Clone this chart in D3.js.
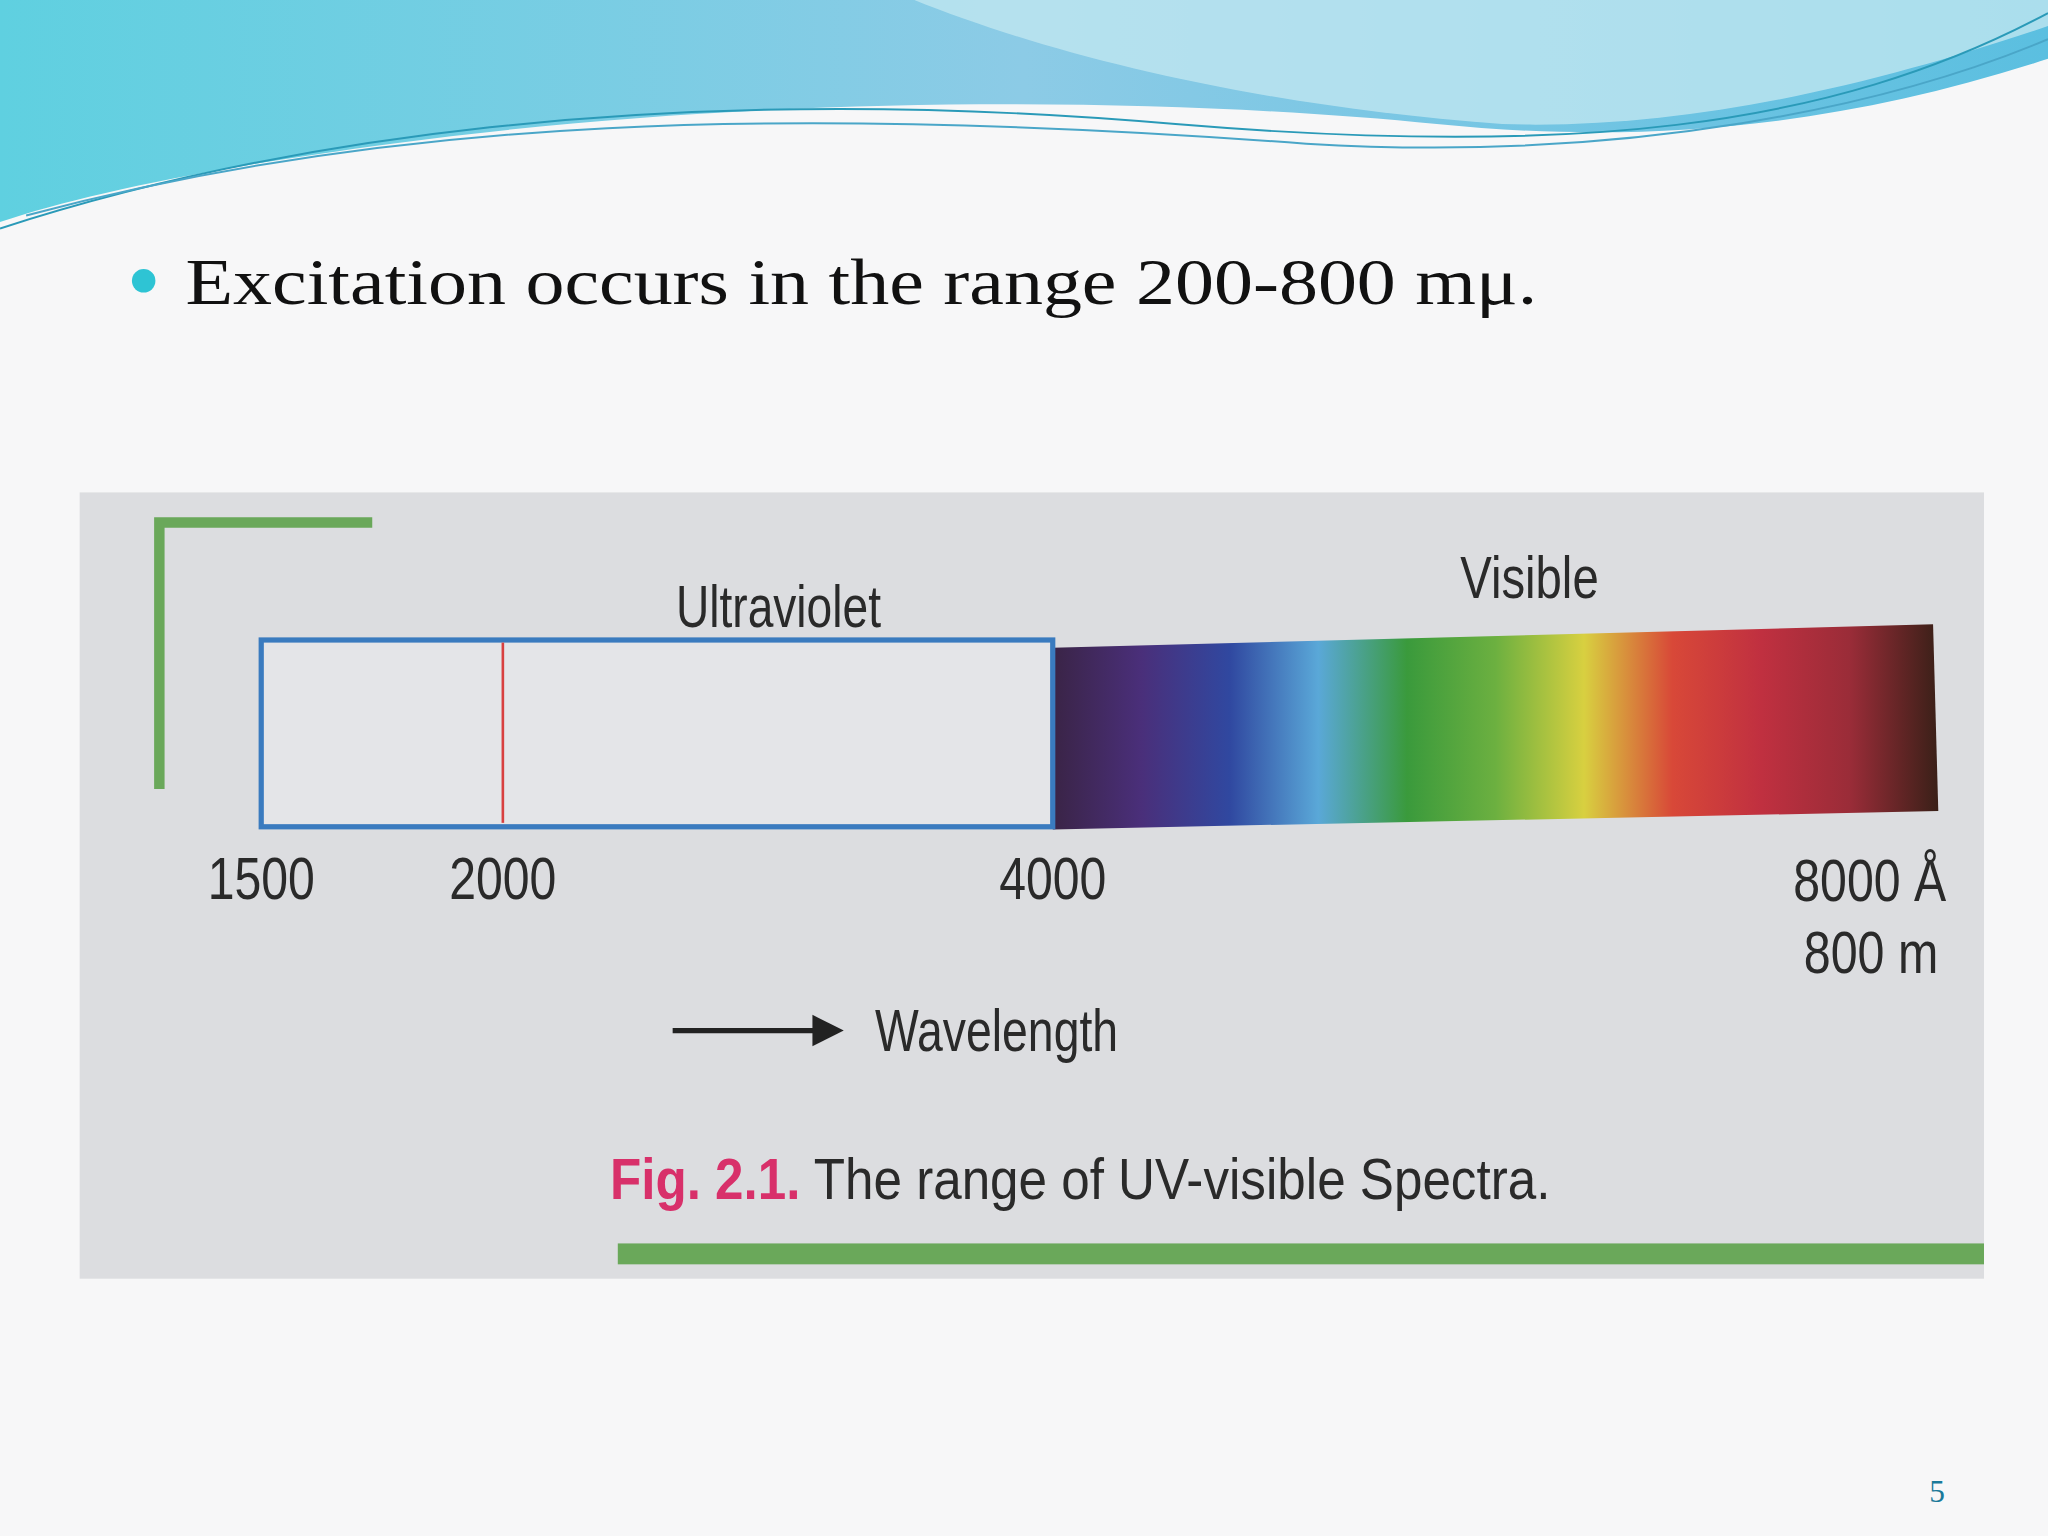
<!DOCTYPE html>
<html><head><meta charset="utf-8">
<script src="https://cdn.jsdelivr.net/npm/d3@7"></script>
<style>body{margin:0;background:#fafafa}svg{display:block}</style>
</head><body><div id="slide"></div>
<script>
// wavelength ticks (Å) and labels
const ticks = [1500, 2000, 4000, 8000];
const tickLabels = ["1500", "2000", "4000", "8000 Å"];
const regions = ["Ultraviolet", "Visible"];
const regionRanges = [[1500, 4000], [4000, 8000]];
const markerLine = 2000;
const spectrumColors = ["#3a2446", "#4a2f7a", "#3048a0", "#5aa8d8", "#3a9a3c", "#6cb040", "#d8d040", "#d84838", "#c03040", "#9a2c38", "#3a2018"];

const W = 2048, H = 1536, k = W / 1568;
const svg = d3.select("#slide").append("svg").attr("width", W).attr("height", H);
const defs = svg.append("defs");

// header waves
const hg = defs.append("linearGradient").attr("id", "hdr").attr("x1", 0).attr("x2", 1);
hg.append("stop").attr("offset", 0).attr("stop-color", "#5fd0e0");
hg.append("stop").attr("offset", 0.5).attr("stop-color", "#8ccbe6");
hg.append("stop").attr("offset", 1).attr("stop-color", "#5bbfe0");
const g = svg.append("g").attr("transform", `scale(${k})`);
g.append("rect").attr("width", 1568).attr("height", 1176).attr("fill", "#f7f7f8");
g.append("path").attr("d", "M0,0 H1568 V45 C1400,100 1250,110 1100,95 C900,75 600,70 300,110 C150,130 60,150 0,170 Z").attr("fill", "url(#hdr)");
g.append("path").attr("d", "M700,0 C800,40 950,80 1150,95 C1300,100 1450,60 1568,20 V0 Z").attr("fill", "#bfe6f0").attr("opacity", 0.8);
[["M0,175 C200,110 500,60 900,95 C1200,120 1400,100 1568,10", "#2a9ab8"],
 ["M20,165 C300,90 600,80 1000,110 C1250,125 1450,80 1568,30", "#4aa6c8"]].forEach(([d, c]) =>
  g.append("path").attr("d", d).attr("fill", "none").attr("stroke", c).attr("stroke-width", 1.5));

// bullet text
g.append("circle").attr("cx", 110).attr("cy", 215).attr("r", 9).attr("fill", "#2ec4d4");
g.append("text").attr("x", 142).attr("y", 233).attr("font-family", "'Liberation Serif', serif")
  .attr("font-size", 50).attr("fill", "#111").attr("textLength", 1035).attr("lengthAdjust", "spacingAndGlyphs")
  .text("Excitation occurs in the range 200-800 mμ.");

// photo panel
g.append("rect").attr("x", 61).attr("y", 377).attr("width", 1458).attr("height", 602).attr("fill", "#dcdde0");
g.append("path").attr("d", "M122,604 V400 H285").attr("fill", "none").attr("stroke", "#6aa85a").attr("stroke-width", 8);
g.append("rect").attr("x", 473).attr("y", 952).attr("width", 1046).attr("height", 16).attr("fill", "#6aa85a");

const x = d3.scaleLinear().domain(ticks).range([200, 385, 806, 1480]);
const barTop = 490, barBot = 633;

// spectrum gradient
const sg = defs.append("linearGradient").attr("id", "spec").attr("x1", 0).attr("x2", 1);
spectrumColors.forEach((c, i) => sg.append("stop").attr("offset", i / (spectrumColors.length - 1)).attr("stop-color", c));
g.append("path")
  .attr("d", `M${x(regionRanges[1][0])},${barTop + 6} L${x(regionRanges[1][1])},${barTop - 12} L${x(regionRanges[1][1]) + 4},${barBot - 12} L${x(regionRanges[1][0])},${barBot + 2} Z`)
  .attr("fill", "url(#spec)");

// UV box
g.append("rect").attr("x", x(regionRanges[0][0])).attr("y", barTop).attr("width", x(regionRanges[0][1]) - x(regionRanges[0][0]))
  .attr("height", barBot - barTop).attr("fill", "#e4e5e8").attr("stroke", "#3a7bbf").attr("stroke-width", 4);
g.append("line").attr("x1", x(markerLine)).attr("x2", x(markerLine)).attr("y1", barTop + 2).attr("y2", barBot - 3)
  .attr("stroke", "#d84040").attr("stroke-width", 2);

// condensed label helper (no narrow font installed)
const font = "'Liberation Sans', sans-serif";
function label(tx, ty, str, len, anchor, size) {
  const x0 = anchor === "end" ? tx - len : anchor === "middle" ? tx - len / 2 : tx;
  return g.append("text").attr("x", x0).attr("y", ty).attr("font-family", font).attr("font-size", size || 46)
    .attr("fill", "#2a2a2a").attr("textLength", len).attr("lengthAdjust", "spacingAndGlyphs").text(str);
}
ticks.forEach((t, i) => {
  if (i === 3) label(1490, 690, tickLabels[i], 117, "end");
  else label(x(t), 688, tickLabels[i], 82, "middle");
});
label(1484, 745, "800 m", 103, "end");
label(596, 480, regions[0], 157, "middle");
label(1171, 458, regions[1], 106, "middle");

// arrow + Wavelength
g.append("line").attr("x1", 515).attr("x2", 628).attr("y1", 789).attr("y2", 789).attr("stroke", "#222").attr("stroke-width", 4);
g.append("path").attr("d", "M622,777 L646,789 L622,801 Z").attr("fill", "#222");
label(670, 805, "Wavelength", 186);

const cap = label(467, 918, "", 720, "start", 44);
cap.append("tspan").attr("fill", "#d8306a").attr("font-weight", "bold").text("Fig. 2.1.");
cap.append("tspan").text(" The range of UV-visible Spectra.");

g.append("text").attr("x", 1483).attr("y", 1150).attr("text-anchor", "middle").attr("font-family", "'Liberation Serif', serif")
  .attr("font-size", 24).attr("fill", "#1a7a9a").text("5");
</script></body></html>
